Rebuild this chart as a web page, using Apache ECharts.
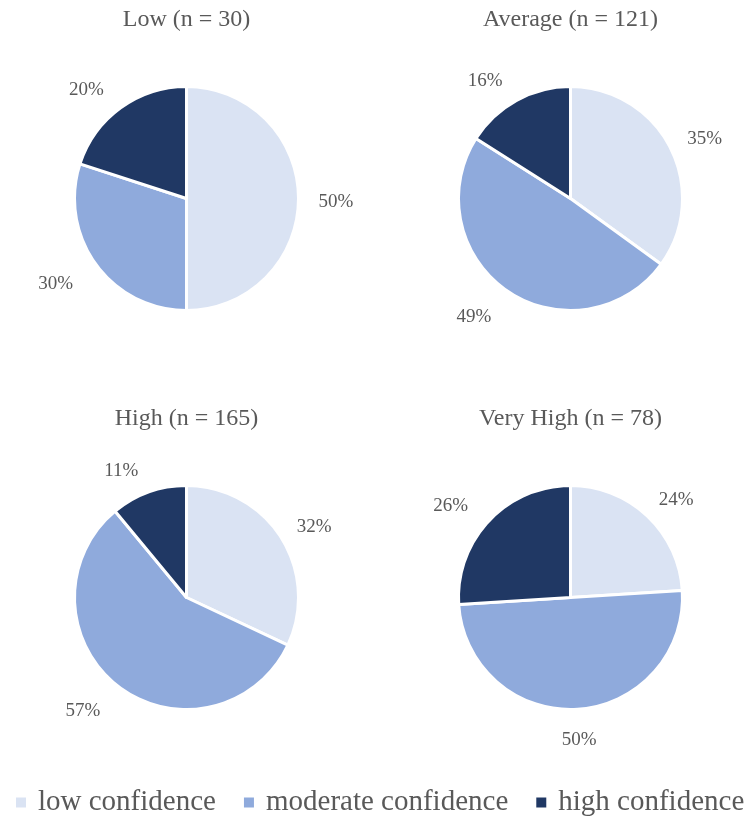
<!DOCTYPE html>
<html>
<head>
<meta charset="utf-8">
<script src="https://cdn.jsdelivr.net/npm/echarts@6/dist/echarts.min.js"></script>
<style>
  html, body { margin: 0; padding: 0; background: #fff; }
  #chart { width: 749px; height: 817px; }
</style>
</head>
<body>
<div id="chart"></div>
<script>
// Confidence levels (legend entries)
const levels = ['low confidence', 'moderate confidence', 'high confidence'];
const levelColors = ['#DAE3F3', '#8FAADC', '#203864'];

// Groups and their sample sizes
const groups = ['Low', 'Average', 'High', 'Very High'];
const sampleSizes = [30, 121, 165, 78];

// Percent share of each confidence level per group
const lowShares = [50, 30, 20];
const averageShares = [35, 49, 16];
const highShares = [32, 57, 11];
const veryHighShares = [24, 50, 26];
const shares = [lowShares, averageShares, highShares, veryHighShares];

// Panel placement (centres of the four pies)
const centers = [[186.5, 198.5], [570.5, 198.5], [186.5, 597.5], [570.5, 597.5]];
const pieRadius = 112;
const textColor = '#595959';
const fontFamily = '"Liberation Serif", "Times New Roman", serif';
const labelFontSize = 19;

const chart = echarts.init(document.getElementById('chart'), null, { renderer: 'canvas' });

const titles = groups.map((g, i) => ({
  text: g + ' (n = ' + sampleSizes[i] + ')',
  left: centers[i][0] - 5,
  top: centers[i][1] - 196,
  textAlign: 'center',
  textStyle: { color: textColor, fontFamily, fontSize: 24, fontWeight: 'normal' }
}));

// Labels sitting straight below/above a slice are centred on it; the rest hug the side.
function sliceLabels(values) {
  const total = values.reduce((a, b) => a + b, 0);
  let cum = 0;
  return values.map(v => {
    const mid = (cum + v / 2) / total * 2 * Math.PI;
    cum += v;
    const dx = Math.abs(Math.sin(mid));
    return dx < 0.2 ? { distanceToLabelLine: -17.5 } : {};
  });
}

const series = groups.map((g, i) => {
  const labelTweaks = sliceLabels(shares[i]);
  return {
    name: g,
    type: 'pie',
    center: centers[i],
    radius: pieRadius,
    startAngle: 90,
    clockwise: true,
    animation: false,
    silent: true,
    itemStyle: { borderColor: '#fff', borderWidth: 3 },
    label: {
      show: true,
      position: 'outside',
      formatter: '{v|{c}%}',
      color: textColor,
      fontFamily,
      fontSize: labelFontSize,
      padding: [0, 8, 0, 0],
      distanceToLabelLine: -7,
      rich: {
        v: {
          color: textColor,
          fontFamily,
          fontSize: labelFontSize,
          lineHeight: 27,
          verticalAlign: 'bottom'
        }
      }
    },
    labelLine: { show: false, length: 27, length2: 0 },
    data: levels.map((lv, k) => ({
      name: lv,
      value: shares[i][k],
      itemStyle: { color: levelColors[k] },
      label: labelTweaks[k]
    }))
  };
});

chart.setOption({
  backgroundColor: '#fff',
  title: titles,
  legend: {
    data: levels,
    top: 788,
    left: 14,
    width: 745,
    icon: 'rect',
    itemWidth: 12,
    itemHeight: 12,
    itemGap: 26,
    padding: 0,
    textStyle: { color: textColor, fontFamily, fontSize: 29, padding: [0, 0, 0, 6] }
  },
  series
});
</script>
</body>
</html>
